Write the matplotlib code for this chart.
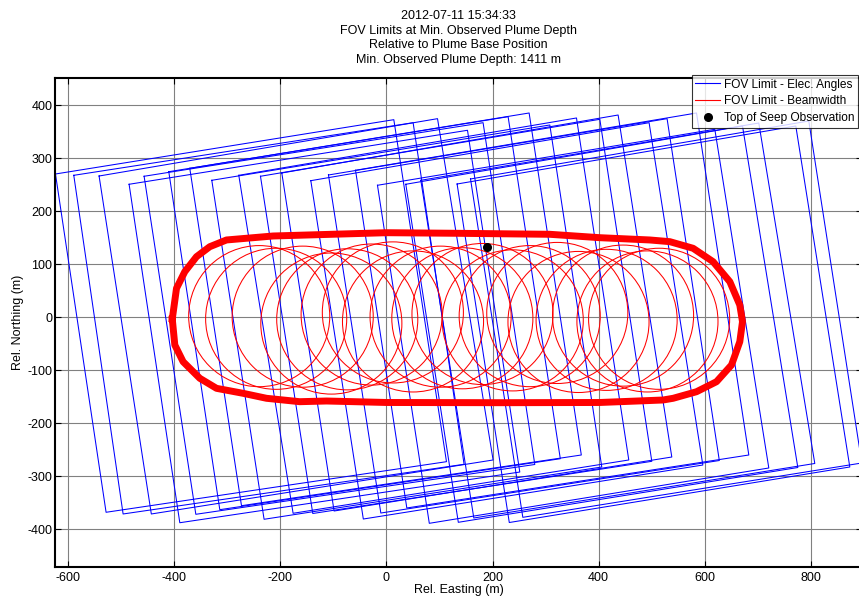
import numpy as np
import matplotlib
matplotlib.use("Agg")
import matplotlib.pyplot as plt
from matplotlib.patches import Circle

plt.rcParams['font.family'] = ['Liberation Sans', 'DejaVu Sans']
plt.rcParams['font.size'] = 9
plt.rcParams['axes.unicode_minus'] = False

# FOV footprint corners (TL, TR, BR, BL) per ping, metres relative to plume base
fov_x = [
    [-624.1, 13.8, 113.1, -528.7],
    [-589.6, 50.2, 146.3, -496.6],
    [-541.9, 96.2, 201.0, -443.4],
    [-485.3, 152.7, 251.3, -389.7],
    [-457.0, 182.1, 279.6, -359.5],
    [-410.5, 229.3, 327.7, -314.3],
    [-370.9, 268.9, 367.3, -273.4],
    [-329.4, 307.9, 405.9, -230.8],
    [-278.5, 358.2, 456.8, -176.1],
    [-237.6, 402.2, 500.2, -139.0],
    [-197.4, 436.7, 537.9, -98.8],
    [-142.7, 495.1, 596.4, -43.7],
    [-109.4, 529.0, 627.5, -10.7],
    [-58.4, 584.5, 683.1, 38.3],
    [-17.0, 619.0, 720.8, 80.7],
    [36.4, 671.2, 775.5, 135.4],
    [64.7, 701.9, 807.5, 164.6],
    [133.1, 771.7, 873.5, 231.5],
    [158.4, 796.2, 896.1, 257.0],
]
fov_y = [
    [270.0, 372.4, -272.4, -367.8],
    [267.5, 366.7, -277.3, -371.0],
    [266.2, 374.3, -269.2, -371.0],
    [250.6, 352.4, -291.9, -387.5],
    [265.7, 366.7, -277.7, -371.6],
    [274.3, 378.0, -266.8, -362.9],
    [280.7, 385.0, -259.8, -355.4],
    [258.1, 362.4, -282.4, -381.0],
    [267.5, 375.6, -269.2, -369.7],
    [265.7, 373.1, -271.7, -370.1],
    [271.9, 381.2, -263.6, -365.4],
    [257.4, 366.7, -278.7, -380.5],
    [268.1, 374.3, -270.2, -369.2],
    [277.0, 385.0, -259.8, -359.7],
    [248.7, 354.3, -284.3, -388.6],
    [250.6, 360.5, -283.4, -386.7],
    [258.1, 366.1, -275.8, -378.6],
    [251.1, 360.5, -282.4, -387.1],
    [260.6, 369.9, -274.9, -377.3],
]

# beamwidth circles
beam_x = [-240, -208, -158, -104, -74, -28, 12, 50, 102, 143, 181, 238, 270, 322, 362, 415, 446, 492, 514]
beam_y = [2, -3, 1, -12, -4, 5, 9, -8, 1, -2, 6, -6, 2, 8, -9, -5, 3, -8, -3]
beam_r = 133

# outer beamwidth limit
hull_x = [-403.9, -395.9, -380.3, -358.2, -333.2, -301.7, -213.8, 0.0, 132.0, 307.9,
          402.2, 496.4, 534.2, 578.1, 615.8, 647.3, 666.1, 671.2, 666.1, 650.5,
          622.2, 584.5, 540.4, 521.5, 402.2, 213.6, 0.0, -113.1, -163.5, -226.2,
          -270.4, -320.5, -352.0, -383.5, -399.1, -403.9]
hull_y = [-3.4, 54.5, 85.8, 114.1, 132.9, 145.6, 153.1, 159.3, 158.2, 156.3,
          149.9, 145.6, 142.4, 129.9, 104.6, 66.9, 23.0, -8.5, -46.2, -90.1,
          -121.6, -140.5, -152.9, -156.1, -160.8, -161.2, -160.8, -158.0, -159.3, -152.9,
          -143.5, -134.1, -115.2, -83.9, -52.4, -3.4]

seep_x = [190.4]
seep_y = [131.8]

xticks = [-600, -400, -200, 0, 200, 400, 600, 800]
yticks = [-400, -300, -200, -100, 0, 100, 200, 300, 400]

fig = plt.figure(figsize=(8.59, 5.96), dpi=100)
ax = fig.add_axes([0.06403, 0.04916, 0.93946, 0.81946])

for i in range(len(fov_x)):
    xs = fov_x[i] + [fov_x[i][0]]
    ys = fov_y[i] + [fov_y[i][0]]
    h_fov, = ax.plot(xs, ys, color='blue', lw=0.75, zorder=2)

for cx, cy in zip(beam_x, beam_y):
    ax.add_patch(Circle((cx, cy), beam_r, fill=False, edgecolor='red', lw=0.75, zorder=3))

h_beam, = ax.plot(hull_x, hull_y, color='red', lw=5, solid_joinstyle='round', zorder=4)
h_seep, = ax.plot(seep_x, seep_y, 'o', color='black', ms=5.5, zorder=5)

ax.set_xlim(-625, 896.5)
ax.set_ylim(-470.4, 450.4)
ax.set_xticks(xticks)
ax.set_yticks(yticks)
ax.grid(True, color='0.5', lw=0.8)
ax.set_axisbelow(True)
ax.tick_params(direction='in', top=True, right=True, length=4, width=0.8, labelsize=9)
ax.tick_params(axis='y', pad=2)
for s in ax.spines.values():
    s.set_linewidth(1.5)

ax.set_xlabel('Rel. Easting (m)', labelpad=0)
ax.set_ylabel('Rel. Northing (m)', labelpad=2)
ax.set_title('2012-07-11 15:34:33\nFOV Limits at Min. Observed Plume Depth\n'
             'Relative to Plume Base Position\nMin. Observed Plume Depth: 1411 m',
             fontsize=9, pad=11, linespacing=1.3)

# legend entries drawn as thin lines, like the plotted data
leg_fov = plt.Line2D([], [], color='blue', lw=0.8)
leg_beam = plt.Line2D([], [], color='red', lw=0.8)
leg = fig.legend([leg_fov, leg_beam, h_seep],
                 ['FOV Limit - Elec. Angles', 'FOV Limit - Beamwidth', 'Top of Seep Observation'],
                 loc='upper left', bbox_to_anchor=(691.7 / 859, 1 - 75 / 596),
                 fontsize=8.6, frameon=True, fancybox=False, borderaxespad=0,
                 handlelength=2.1, handletextpad=0.3, borderpad=0.3, labelspacing=0.4)
leg.get_frame().set_edgecolor('black')
leg.get_frame().set_linewidth(0.8)

fig.savefig('out.png', dpi=100)
